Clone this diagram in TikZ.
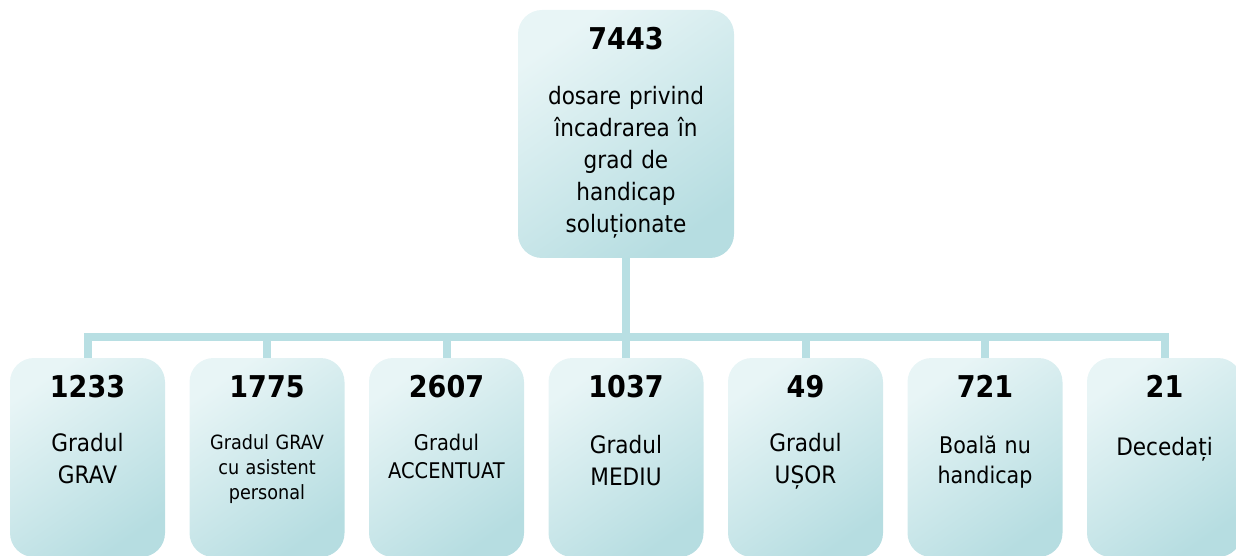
\documentclass[tikz,border=0pt]{standalone}
\usepackage{fontspec}
\setmainfont{DejaVu Sans}[FakeStretch=0.9]
\definecolor{boxlight}{HTML}{E8F5F6}
\definecolor{boxdark}{HTML}{B6DDE1}
\definecolor{conn}{HTML}{B8DFE3}
\begin{document}
\begin{tikzpicture}[x=0.75pt,y=-0.75pt,
  box/.style={rounded corners=18pt, inner sep=0pt, top color=boxlight, middle color=boxlight!78!boxdark, bottom color=boxdark, shading angle=35, minimum width=116.25pt, minimum height=149.25pt},
  topbox/.style={box, minimum width=162pt, minimum height=186pt},
  num/.style={font=\bfseries\fontsize{22.5}{24}\selectfont, anchor=base, inner sep=0pt},
  desc/.style={font=\fontsize{18}{24}\selectfont, anchor=base, inner sep=0pt, text width=112pt, align=center},
  link/.style={draw=conn, line width=6pt, line join=miter}
]
\useasboundingbox (0,0) rectangle (1236,556);
% boxes
\node[topbox] (top) at (626,134) {};
\foreach \i/\x in {1/87.5,2/267,3/446.5,4/626,5/805.5,6/985,7/1164.5}
  \node[box] (b\i) at (\x,457.5) {};
% connectors
\coordinate (bar) at (626,337);
\draw[link] (top.south) -- (bar);
\draw[link] (b1.north) -- (b1.north |- bar) -- (b7.north |- bar) -- (b7.north);
\foreach \i in {2,...,6}
  \draw[link] (b\i.north) -- (b\i.north |- bar);
% texts
\node[num] (topnum) at (626,50) {7443};
\node[desc, text width=155pt] (toptext) at (626,105) {dosare privind\\încadrarea în\\grad de\\handicap\\soluționate};
\node[num] (n1) at (87.5,397) {1233};
\node[desc] (t1) at (87.5,451) {Gradul\\GRAV};
\node[num] (n2) at (267,397) {1775};
\node[desc, font=\fontsize{14.7}{19}\selectfont] (t2) at (267,449) {Gradul GRAV\\cu asistent\\personal};
\node[num] (n3) at (446.5,397) {2607};
\node[desc, font=\fontsize{16.2}{21}\selectfont] (t3) at (446.5,450) {Gradul\\ACCENTUAT};
\node[num] (n4) at (626,397) {1037};
\node[desc] (t4) at (626,453) {Gradul\\MEDIU};
\node[num] (n5) at (805.5,397) {49};
\node[desc] (t5) at (805.5,451) {Gradul\\UȘOR};
\node[num] (n6) at (985,397) {721};
\node[desc, font=\fontsize{17.2}{23}\selectfont] (t6) at (985,453) {Boală nu\\handicap};
\node[num] (n7) at (1164.5,397) {21};
\node[desc] (t7) at (1164.5,455) {Decedați};
\end{tikzpicture}
\end{document}
